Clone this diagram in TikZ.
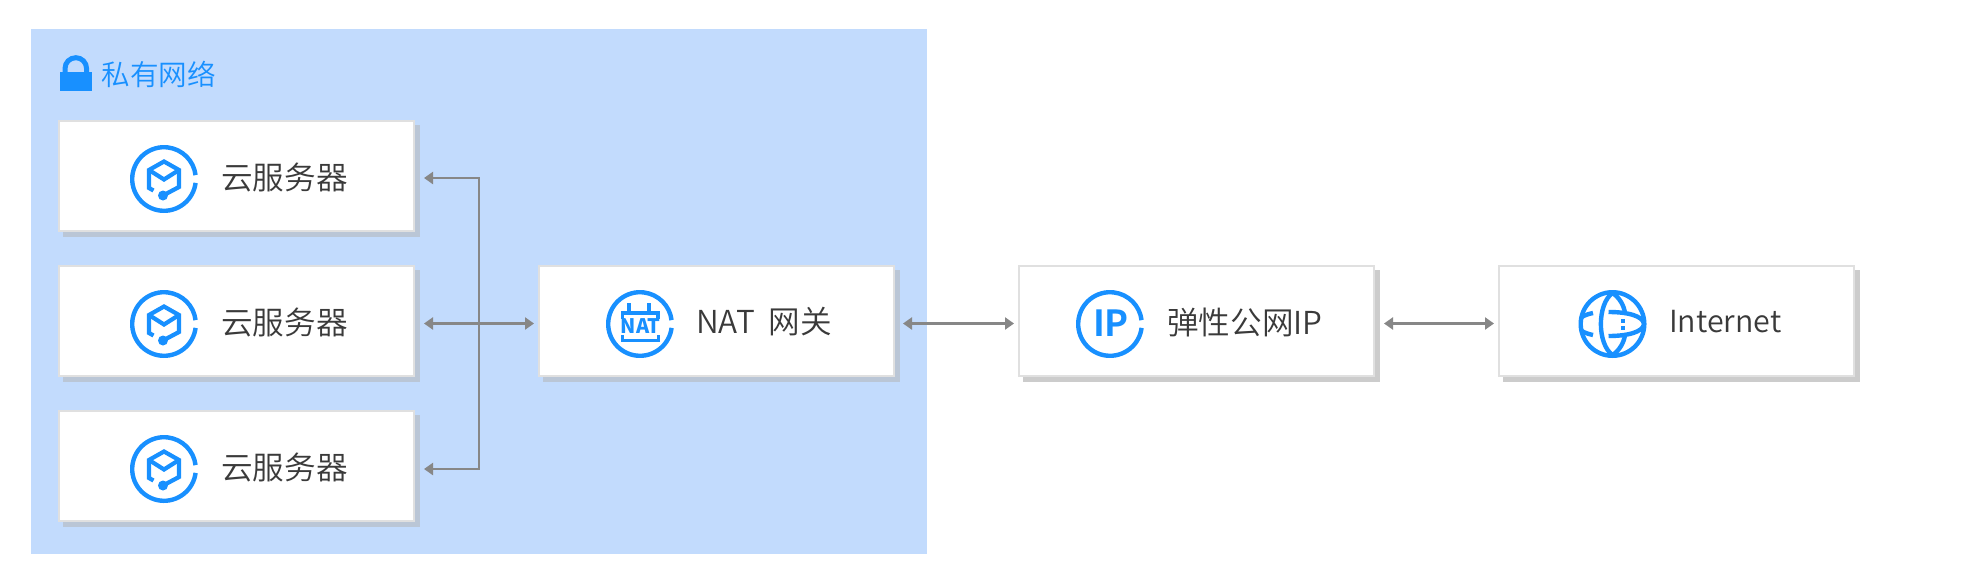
\documentclass[tikz,border=0pt]{standalone}
\usepackage{fontspec}
\setmainfont{Noto Sans CJK SC}[UprightFont=* DemiLight,BoldFont=* Bold]
\newfontfamily\iconfont{Noto Sans CJK SC}[UprightFont=* Medium,BoldFont=* Black]
\newfontfamily\ipfont{Noto Sans CJK SC}[UprightFont=* Bold]
\usetikzlibrary{arrows.meta,calc}
\definecolor{vpcblue}{HTML}{C2DBFD}
\definecolor{iconblue}{HTML}{1890FF}
\definecolor{boxline}{HTML}{E0E0E0}
\definecolor{shadowblue}{HTML}{BAC6D6}
\definecolor{shadowwhite}{HTML}{CCCCCC}
\definecolor{connline}{HTML}{878787}
\definecolor{labelc}{HTML}{3A3A3A}
\tikzset{
  x=1pt,y=-1pt,
  cardbox/.style={draw=boxline,line width=2pt,fill=white,minimum width=355pt,minimum height=110pt,inner sep=0pt,outer sep=0pt},
  cardlabel/.style={anchor=west,inner sep=0pt,text=labelc,font=\fontsize{31.6pt}{33pt}\selectfont},
  conn/.style={draw=connline,line width=2.2pt,{Triangle[length=9pt,width=12pt]}-{Triangle[length=9pt,width=12pt]}},
  ring/.style={draw=iconblue,line width=4.4pt},
  glyph/.style={draw=iconblue,line width=4.2pt},
  pics/ringicon/.style={code={
    \draw[ring] (31.8*cos 7,31.8*sin 7) arc[start angle=-7,end angle=-353,radius=31.8pt];
  }},
  pics/cubeicon/.style={code={
    \draw[glyph,line join=miter] (-10.5,11.5) -- (-15,9) -- (-15,-9) -- (0,-17.5) -- (15,-9) -- (15,8) -- (-1,16.5);
    \draw[glyph] (-15,-9) -- (0,0.5) -- (15,-9);
    \fill[iconblue] (-1,16.5) circle[radius=5pt];
  }},
}
\begin{document}
\begin{tikzpicture}
\useasboundingbox (0,0) rectangle (1982,576);
\fill[white] (0,0) rectangle (1982,576);
\fill[vpcblue] (30.5,29) rectangle (927,554);
% shadows
\foreach \cx/\cy/\col in {236.5/176/shadowblue,236.5/321/shadowblue,236.5/466/shadowblue,716.5/321/shadowblue,1196.5/321/shadowwhite,1676.5/321/shadowwhite}{
  \fill[\col] (\cx-178.5+5,\cy-56+5) rectangle (\cx+178.5+5,\cy+56+5);
}
% lock
\draw[iconblue,line width=5pt] (65,72) -- (65,68.5) arc[start angle=180,end angle=0,radius=10.8pt] -- (86.6,72);
\fill[iconblue] (60,71.7) rectangle (91.7,90.7);
\node[anchor=west,inner sep=0pt,text=iconblue,font=\fontsize{28.6pt}{30pt}\selectfont] (vpclabel) at (101.5,74) {私有网络};
% cards
\node[cardbox] (s1) at (236.5,176) {};
\node[cardbox] (s2) at (236.5,321) {};
\node[cardbox] (s3) at (236.5,466) {};
\node[cardbox] (nat) at (716.5,321) {};
\node[cardbox] (ip) at (1196.5,321) {};
\node[cardbox] (inet) at (1676.5,321) {};
% server cards
\foreach \nm/\cy in {a/179,b/324,c/469}{
  \pic at (164,\cy) {ringicon};
  \pic at (164,\cy) {cubeicon};
  \node[cardlabel] (lab\nm) at (221,\cy-1) {云服务器};
}
% NAT icon
\pic at (640,324) {ringicon};
\node[inner sep=0pt,text=iconblue,font=\fontsize{20pt}{20pt}\iconfont\bfseries] (natglyph) at (640.5,326) {NAT};
\draw[iconblue,line width=3.4pt] (629,303) -- (629,312) (649,303) -- (649,312);
\draw[iconblue,line width=3.4pt] (622.5,319) -- (622.5,313) -- (658,313) -- (658,319);
\draw[iconblue,line width=3.4pt] (622.5,335) -- (622.5,340.5) -- (658.5,340.5) -- (658.5,335);
\node[cardlabel] (natlab) at (696,322) {NAT\hspace{7pt} 网关};
% IP icon
\pic at (1110,324) {ringicon};
\node[inner sep=0pt,text=iconblue,font=\fontsize{36pt}{36pt}\ipfont] (ipglyph) at (1111,323.5) {IP};
\node[cardlabel] (iplab) at (1167,322) {弹性公网IP};
% globe icon
\draw[ring] (1612.5,324) circle[radius=31.8pt];
\draw[ring] (1612.5,293) .. controls (1597,304) and (1597,344) .. (1612.5,355);
\draw[ring] (1612.5,293) .. controls (1620,298) and (1624,306) .. (1625,313);
\draw[ring] (1612.5,355) .. controls (1620,350) and (1624,342) .. (1625,335);
\draw[ring] (1608.5,312) .. controls (1628,312) and (1643,316) .. (1644,324) .. controls (1643,332) and (1628,336) .. (1608.5,336);
\draw[ring] (1582,317) .. controls (1584,315.5) and (1588,314) .. (1593,313);
\draw[ring] (1582,331) .. controls (1584,332.5) and (1588,334) .. (1593,335);
\fill[iconblue] (1621,319) rectangle (1624.5,323);
\fill[iconblue] (1621,325.5) rectangle (1624.5,329.5);
\node[cardlabel,font=\fontsize{30.4pt}{33pt}\selectfont] (inetlab) at (1669,322) {Internet};
% connectors
\coordinate (trunk) at (479,323.5);
\draw[conn] ([xshift=10pt,yshift=-2pt]s1.east) -| (trunk) |- ([xshift=10pt,yshift=-3pt]s3.east);
\draw[conn] ([xshift=10pt,yshift=-2.5pt]s2.east) -- ([xshift=-5pt,yshift=-2.5pt]nat.west);
\draw[conn] ([xshift=9pt,yshift=-2.5pt]nat.east) -- ([xshift=-5pt,yshift=-2.5pt]ip.west);
\draw[conn] ([xshift=10pt,yshift=-2.5pt]ip.east) -- ([xshift=-5pt,yshift=-2.5pt]inet.west);
\end{tikzpicture}
\end{document}
